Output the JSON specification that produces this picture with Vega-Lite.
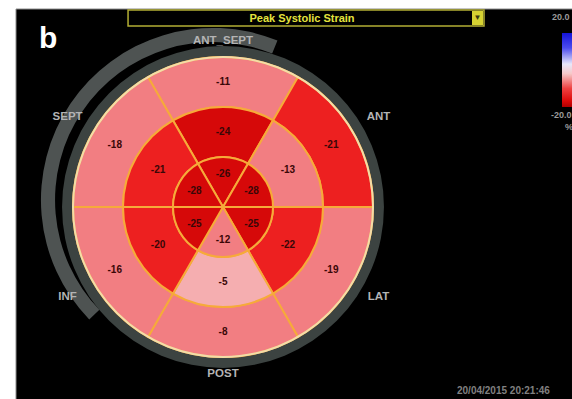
{
  "$schema": "https://vega.github.io/schema/vega-lite/v6.json",
  "width": 572,
  "height": 399,
  "padding": 0,
  "autosize": {"type": "none"},
  "background": "#ffffff",
  "config": {"view": {"stroke": null}, "font": "Liberation Sans"},
  "datasets": {
    "segments": [
      {"ring": "basal", "wall": "ANT_SEPT", "strain": -11},
      {"ring": "basal", "wall": "ANT", "strain": -21},
      {"ring": "basal", "wall": "LAT", "strain": -19},
      {"ring": "basal", "wall": "POST", "strain": -8},
      {"ring": "basal", "wall": "INF", "strain": -16},
      {"ring": "basal", "wall": "SEPT", "strain": -18},
      {"ring": "mid", "wall": "ANT_SEPT", "strain": -24},
      {"ring": "mid", "wall": "ANT", "strain": -13},
      {"ring": "mid", "wall": "LAT", "strain": -22},
      {"ring": "mid", "wall": "POST", "strain": -5},
      {"ring": "mid", "wall": "INF", "strain": -20},
      {"ring": "mid", "wall": "SEPT", "strain": -21},
      {"ring": "apical", "wall": "ANT_SEPT", "strain": -26},
      {"ring": "apical", "wall": "ANT", "strain": -28},
      {"ring": "apical", "wall": "LAT", "strain": -25},
      {"ring": "apical", "wall": "POST", "strain": -12},
      {"ring": "apical", "wall": "INF", "strain": -25},
      {"ring": "apical", "wall": "SEPT", "strain": -28}
    ]
  },
  "layer": [
    {
      "data": {"values": [{}]},
      "mark": {"type": "rect", "fill": "#000000", "stroke": "#8c8c8c", "strokeWidth": 1},
      "encoding": {
        "x": {"datum": -1.38, "type": "quantitative", "scale": {"domain": [-1.486667, 2.326667], "nice": false, "zero": false}, "axis": null},
        "x2": {"datum": 2.33},
        "y": {"datum": 1.32, "type": "quantitative", "scale": {"domain": [-1.28, 1.38], "nice": false, "zero": false}, "axis": null},
        "y2": {"datum": -1.29}
      }
    },
    {
      "data": {"values": [{}]},
      "mark": {"type": "rect", "fill": "#000000", "stroke": "#b3ae34", "strokeWidth": 1.5},
      "encoding": {
        "x": {"datum": -0.633, "type": "quantitative"},
        "x2": {"datum": 1.74},
        "y": {"datum": 1.3133, "type": "quantitative"},
        "y2": {"datum": 1.2067}
      }
    },
    {
      "data": {"values": [{}]},
      "mark": {"type": "text", "text": "Peak Systolic Strain", "fill": "#e4e33e", "fontSize": 11, "fontWeight": "bold", "align": "center", "baseline": "middle"},
      "encoding": {
        "x": {"datum": 0.5267, "type": "quantitative"},
        "y": {"datum": 1.2533, "type": "quantitative"}
      }
    },
    {
      "data": {"values": [{}]},
      "mark": {"type": "rect", "fill": "#d6d232"},
      "encoding": {
        "x": {"datum": 1.66, "type": "quantitative"},
        "x2": {"datum": 1.7333},
        "y": {"datum": 1.3067, "type": "quantitative"},
        "y2": {"datum": 1.2133}
      }
    },
    {
      "data": {"values": [{}]},
      "mark": {"type": "text", "text": "▼", "fill": "#3a3a10", "fontSize": 8, "align": "center", "baseline": "middle"},
      "encoding": {
        "x": {"datum": 1.6967, "type": "quantitative"},
        "y": {"datum": 1.2567, "type": "quantitative"}
      }
    },
    {
      "data": {"values": [{}]},
      "mark": {"type": "text", "text": "b", "fill": "#ffffff", "fontSize": 30, "fontWeight": "bold", "align": "left", "baseline": "alphabetic"},
      "encoding": {
        "x": {"datum": -1.2267, "type": "quantitative"},
        "y": {"datum": 1.06, "type": "quantitative"}
      }
    },
    {
      "data": {"values": [{}]},
      "mark": {
        "type": "rect",
        "fill": {
          "gradient": "linear", "x1": 0, "y1": 0, "x2": 0, "y2": 1,
          "stops": [
            {"offset": 0, "color": "#1414d8"},
            {"offset": 0.2, "color": "#4a4aee"},
            {"offset": 0.42, "color": "#e8e8fa"},
            {"offset": 0.55, "color": "#f6c8c8"},
            {"offset": 0.75, "color": "#ee4040"},
            {"offset": 0.92, "color": "#dc0808"},
            {"offset": 1, "color": "#b00000"}
          ]
        }
      },
      "encoding": {
        "x": {"datum": 2.26, "type": "quantitative"},
        "x2": {"datum": 2.33},
        "y": {"datum": 1.16, "type": "quantitative"},
        "y2": {"datum": 0.6667}
      }
    },
    {
      "data": {"values": [{}]},
      "mark": {"type": "text", "text": "20.0", "fill": "#9a9a9a", "fontSize": 9, "fontWeight": "bold", "align": "left", "baseline": "middle"},
      "encoding": {
        "x": {"datum": 2.1933, "type": "quantitative"},
        "y": {"datum": 1.2667, "type": "quantitative"}
      }
    },
    {
      "data": {"values": [{}]},
      "mark": {"type": "text", "text": "-20.0", "fill": "#9a9a9a", "fontSize": 9, "fontWeight": "bold", "align": "left", "baseline": "middle"},
      "encoding": {
        "x": {"datum": 2.1867, "type": "quantitative"},
        "y": {"datum": 0.6133, "type": "quantitative"}
      }
    },
    {
      "data": {"values": [{}]},
      "mark": {"type": "text", "text": "%", "fill": "#9a9a9a", "fontSize": 9, "fontWeight": "bold", "align": "left", "baseline": "middle"},
      "encoding": {
        "x": {"datum": 2.28, "type": "quantitative"},
        "y": {"datum": 0.5333, "type": "quantitative"}
      }
    },
    {
      "data": {"values": [{}]},
      "mark": {"type": "text", "text": "20/04/2015 20:21:46", "fill": "#808080", "fontSize": 10, "fontWeight": "bold", "align": "left", "baseline": "middle"},
      "encoding": {
        "x": {"datum": 1.56, "type": "quantitative"},
        "y": {"datum": -1.2267, "type": "quantitative"}
      }
    },
    {
      "data": {"values": [{}]},
      "mark": {"type": "arc", "fill": "#4e5352"},
      "encoding": {
        "x": {"datum": -0.0667, "type": "quantitative"},
        "y": {"datum": 0.0467, "type": "quantitative"},
        "theta": {"datum": -134, "type": "quantitative", "scale": {"domain": [0, 360], "range": [0, 6.283185307179586]}},
        "theta2": {"datum": 22},
        "radius": {"datum": 1.053, "type": "quantitative", "scale": {"type": "linear", "domain": [0, 1], "range": [0, 150], "zero": true, "nice": false}},
        "radius2": {"datum": 1.147}
      }
    },
    {
      "data": {"values": [{}]},
      "mark": {"type": "arc", "fill": "#3c4341"},
      "encoding": {
        "x": {"datum": 0, "type": "quantitative"},
        "y": {"datum": 0, "type": "quantitative"},
        "theta": {"datum": 0, "type": "quantitative"},
        "theta2": {"datum": 360},
        "radius": {"datum": 0.99, "type": "quantitative"},
        "radius2": {"datum": 1.073}
      }
    },
    {
      "data": {"name": "segments"},
      "transform": [
        {"calculate": "indexof(['ANT_SEPT','ANT','LAT','POST','INF','SEPT'], datum.wall) * 60 - 30", "as": "t0"},
        {"calculate": "datum.t0 + 60", "as": "t1"},
        {"calculate": "indexof(['apical','mid','basal'], datum.ring) / 3", "as": "r0"},
        {"calculate": "datum.r0 + 1 / 3", "as": "r1"}
      ],
      "mark": {"type": "arc", "stroke": "#f6aa3a", "strokeWidth": 2},
      "encoding": {
        "x": {"datum": 0, "type": "quantitative"},
        "y": {"datum": 0, "type": "quantitative"},
        "theta": {"field": "t0", "type": "quantitative", "stack": false},
        "theta2": {"field": "t1"},
        "radius": {"field": "r0", "type": "quantitative"},
        "radius2": {"field": "r1"},
        "color": {
          "field": "strain",
          "type": "quantitative",
          "scale": {"type": "threshold", "domain": [-23, -19.5, -6], "range": ["#d60909", "#ed2020", "#f27e82", "#f5aeb0"]},
          "legend": null
        }
      }
    },
    {
      "data": {"values": [{}]},
      "mark": {"type": "arc", "filled": false, "stroke": "#f3dca8", "strokeWidth": 2},
      "encoding": {
        "x": {"datum": 0, "type": "quantitative"},
        "y": {"datum": 0, "type": "quantitative"},
        "theta": {"datum": 0, "type": "quantitative"},
        "theta2": {"datum": 360},
        "radius": {"datum": 1, "type": "quantitative"}
      }
    },
    {
      "data": {"name": "segments"},
      "transform": [
        {"calculate": "indexof(['ANT_SEPT','ANT','LAT','POST','INF','SEPT'], datum.wall) * 60", "as": "tm"},
        {"calculate": "indexof(['apical','mid','basal'], datum.ring)", "as": "ri"},
        {"calculate": "datum.ri == 0 ? 0.22 : (datum.ri + 0.5) / 3", "as": "rm"}
      ],
      "mark": {"type": "text", "fill": "#3a0707", "fontSize": 10, "fontWeight": "bold", "align": "center", "baseline": "middle"},
      "encoding": {
        "x": {"datum": 0, "type": "quantitative"},
        "y": {"datum": 0, "type": "quantitative"},
        "theta": {"field": "tm", "type": "quantitative", "stack": false},
        "radius": {"field": "rm", "type": "quantitative"},
        "text": {"field": "strain", "type": "nominal"}
      }
    },
    {
      "data": {"name": "segments"},
      "transform": [
        {"filter": "datum.ring == 'basal'"},
        {"calculate": "indexof(['ANT_SEPT','ANT','LAT','POST','INF','SEPT'], datum.wall) * 60", "as": "tm"},
        {"calculate": "1.11 + 0.1 * abs(sin(datum.tm * PI / 180))", "as": "rl"}
      ],
      "mark": {"type": "text", "fill": "#b4b4b4", "fontSize": 11.5, "fontWeight": "bold", "align": "center", "baseline": "middle"},
      "encoding": {
        "x": {"datum": 0, "type": "quantitative"},
        "y": {"datum": 0, "type": "quantitative"},
        "theta": {"field": "tm", "type": "quantitative", "stack": false},
        "radius": {"field": "rl", "type": "quantitative"},
        "text": {"field": "wall", "type": "nominal"}
      }
    }
  ]
}
